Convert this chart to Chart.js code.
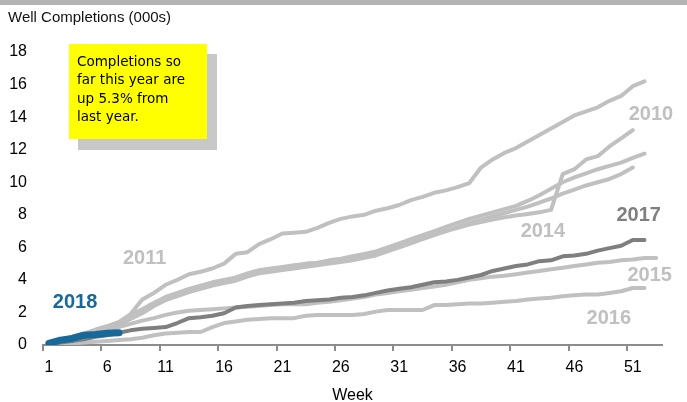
<!DOCTYPE html>
<html>
<head>
<meta charset="utf-8">
<script src="https://cdn.jsdelivr.net/npm/chart.js@4.4.0/dist/chart.umd.min.js"></script>
<style>
  html, body { margin: 0; padding: 0; background: #fff; }
  #wrap { width: 687px; height: 402px; }
</style>
</head>
<body>
<div id="wrap"><canvas id="grafico" width="687" height="402"></canvas></div>
<script>
// weeks 1..53
var semanas = [];
for (var i = 1; i <= 53; i++) semanas.push(String(i));

var anos = ["2018", "2017", "2010", "2011", "2012", "2014", "2015", "2016"];

var y2010 = [0.1,0.25,0.45,0.65,0.85,1.05,1.3,1.75,2.1,2.5,
    2.85,3.1,3.35,3.55,3.75,3.9,4.05,4.3,4.5,4.6,
    4.7,4.8,4.9,4.95,5.1,5.2,5.3,5.45,5.6,5.85,
    6.1,6.35,6.6,6.85,7.0,7.2,7.4,7.55,7.7,7.85,
    7.95,8.05,8.15,8.3,10.5,10.8,11.4,11.6,12.2,12.7,13.2];
var y2011 = [0.1,0.3,0.5,0.7,0.95,1.15,1.4,1.9,2.8,3.2,
    3.7,4.0,4.35,4.5,4.7,5.0,5.6,5.7,6.2,6.5,
    6.85,6.9,6.95,7.2,7.5,7.75,7.9,8.0,8.25,8.4,
    8.6,8.9,9.1,9.35,9.5,9.7,9.95,10.9,11.4,11.8,
    12.1,12.5,12.9,13.3,13.7,14.1,14.35,14.6,15.0,15.3,15.9,16.2];
var y2012 = [0.1,0.3,0.5,0.7,0.9,1.15,1.4,1.85,2.2,2.6,
    2.95,3.2,3.45,3.65,3.85,4.0,4.15,4.4,4.6,4.7,
    4.8,4.9,5.0,5.05,5.2,5.3,5.45,5.6,5.75,6.0,
    6.25,6.5,6.75,7.0,7.25,7.5,7.75,7.95,8.15,8.35,
    8.55,8.85,9.2,9.6,10.0,10.3,10.55,10.8,11.0,11.2,11.5,11.75];
var y2014 = [0.05,0.2,0.4,0.6,0.8,1.0,1.2,1.6,1.95,2.4,
    2.75,3.0,3.25,3.45,3.65,3.8,3.95,4.2,4.4,4.5,
    4.6,4.7,4.8,4.9,5.0,5.1,5.2,5.35,5.5,5.75,
    6.0,6.25,6.5,6.75,7.0,7.25,7.5,7.7,7.9,8.1,
    8.3,8.5,8.75,9.0,9.3,9.55,9.8,10.0,10.2,10.5,10.9];
var y2015 = [0.1,0.2,0.35,0.5,0.7,0.9,1.1,1.3,1.5,1.65,
    1.85,2.0,2.1,2.15,2.2,2.25,2.3,2.35,2.4,2.45,
    2.5,2.5,2.5,2.6,2.65,2.75,2.85,2.95,3.1,3.2,
    3.3,3.4,3.5,3.6,3.7,3.85,4.0,4.1,4.2,4.25,
    4.35,4.45,4.55,4.65,4.75,4.85,4.95,5.05,5.1,5.2,5.25,5.35,5.35];
var y2016 = [0.03,0.06,0.1,0.15,0.2,0.25,0.3,0.35,0.45,0.6,
    0.7,0.75,0.8,0.8,1.1,1.35,1.45,1.55,1.6,1.65,
    1.65,1.65,1.8,1.85,1.85,1.85,1.85,1.9,2.05,2.15,
    2.15,2.15,2.15,2.45,2.45,2.5,2.55,2.55,2.6,2.65,
    2.7,2.8,2.85,2.9,3.0,3.05,3.1,3.1,3.2,3.3,3.5,3.5];
var y2017 = [0.05,0.15,0.25,0.35,0.5,0.6,0.75,0.9,1.0,1.05,
    1.1,1.35,1.65,1.7,1.8,1.95,2.3,2.4,2.45,2.5,
    2.55,2.6,2.7,2.75,2.8,2.9,2.95,3.05,3.2,3.35,
    3.45,3.55,3.7,3.85,3.9,4.0,4.15,4.3,4.55,4.7,
    4.85,4.95,5.15,5.2,5.45,5.5,5.6,5.8,5.95,6.1,6.45,6.45];
var y2018 = [0.1,0.3,0.4,0.6,0.65,0.72,0.75];

var yTicks = [0, 2, 4, 6, 8, 10, 12, 14, 16, 18];

var cinza = '#c0c0c0';
var cinzaEscuro = '#7f7f7f';
var azul = '#17699a';

// series labels on the plot (week, value)
var rotulos = [
    { t: "2011", w: 9.2, v: 5.3, c: cinza },
    { t: "2018", w: 3.25, v: 2.6, c: azul },
    { t: "2010", w: 52.55, v: 14.15, c: cinza },
    { t: "2017", w: 51.5, v: 7.95, c: cinzaEscuro },
    { t: "2014", w: 43.3, v: 6.95, c: cinza },
    { t: "2015", w: 52.45, v: 4.25, c: cinza },
    { t: "2016", w: 48.95, v: 1.65, c: cinza }
];

var nota = ["Completions so", "far this year are", "up 5.3% from", "last year."];

function linha(label, data, cor, largura) {
    return {
        label: label,
        data: data,
        borderColor: cor,
        backgroundColor: 'transparent',
        borderWidth: largura,
        pointRadius: 0,
        tension: 0,
        borderJoinStyle: 'round',
        borderCapStyle: 'round',
        fill: false
    };
}

var extras = {
    id: 'extras',
    beforeDraw: function (chart) {
        var c = chart.ctx;
        c.save();
        c.fillStyle = '#fff';
        c.fillRect(0, 0, chart.width, chart.height);
        c.fillStyle = '#b3b3b3';
        c.fillRect(0, 0, chart.width, 5);
        c.fillStyle = '#111';
        c.font = "15px 'Liberation Sans', Arial, sans-serif";
        c.textBaseline = 'middle';
        c.textAlign = 'left';
        c.fillText("Well Completions (000s)", 8, 18);
        c.restore();
    },
    afterDraw: function (chart) {
        var c = chart.ctx;
        var sx = chart.scales.x, sy = chart.scales.y;
        c.save();
        // year labels
        c.font = "bold 20px 'Liberation Sans', Arial, sans-serif";
        c.textAlign = 'center';
        c.textBaseline = 'middle';
        rotulos.forEach(function (r) {
            c.fillStyle = r.c;
            c.fillText(r.t, sx.getPixelForValue(r.w - 1), sy.getPixelForValue(r.v));
        });
        // call-out box
        c.fillStyle = '#c8c8c8';
        c.fillRect(78, 54, 139, 96);
        c.fillStyle = '#ffff00';
        c.fillRect(69, 44, 138, 95);
        c.fillStyle = '#000';
        c.font = "13.5px 'Comic Sans MS', 'DejaVu Sans', sans-serif";
        c.textAlign = 'left';
        nota.forEach(function (s, i) {
            c.fillText(s, 77, 62 + i * 18.5);
        });
        c.restore();
    }
};

var ctx = document.getElementById('grafico').getContext('2d');
var chart = new Chart(ctx, {
    type: 'line',
    data: {
        labels: semanas,
        datasets: [
            linha(anos[0], y2018, azul, 7),
            linha(anos[1], y2017, cinzaEscuro, 4),
            linha(anos[2], y2010, cinza, 4),
            linha(anos[3], y2011, cinza, 4),
            linha(anos[4], y2012, cinza, 4),
            linha(anos[5], y2014, cinza, 4),
            linha(anos[6], y2015, cinza, 4),
            linha(anos[7], y2016, cinza, 4)
        ]
    },
    options: {
        responsive: false,
        animation: false,
        layout: { padding: { top: 52, right: 25, bottom: 0, left: 0 } },
        plugins: {
            legend: { display: false },
            tooltip: { enabled: false },
            title: { display: false }
        },
        scales: {
            x: {
                type: 'category',
                offset: true,
                grid: {
                    offset: true,
                    drawOnChartArea: false,
                    drawTicks: true,
                    tickLength: 6,
                    lineWidth: 2,
                    color: function (c) { return c.index % 5 === 0 ? '#8c8c8c' : 'rgba(0,0,0,0)'; }
                },
                border: { display: true, color: '#8c8c8c', width: 2 },
                ticks: {
                    autoSkip: false,
                    maxRotation: 0,
                    padding: 7,
                    color: '#000',
                    font: { size: 16 },
                    callback: function (v, i) { return i % 5 === 0 ? semanas[i] : ''; }
                },
                title: {
                    display: true,
                    text: 'Week',
                    color: '#000',
                    font: { size: 16, lineHeight: 1 },
                    padding: { top: 0, bottom: -2 }
                },
                afterFit: function (s) { s.height = 57; }
            },
            y: {
                min: 0,
                max: 18,
                afterBuildTicks: function (s) { s.ticks = yTicks.map(function (v) { return { value: v }; }); },
                grid: { display: false, drawTicks: false },
                border: { display: false },
                ticks: { padding: 16, color: '#000', font: { size: 16 } },
                afterFit: function (s) { s.width = 43; }
            }
        }
    },
    plugins: [extras]
});
</script>
</body>
</html>
